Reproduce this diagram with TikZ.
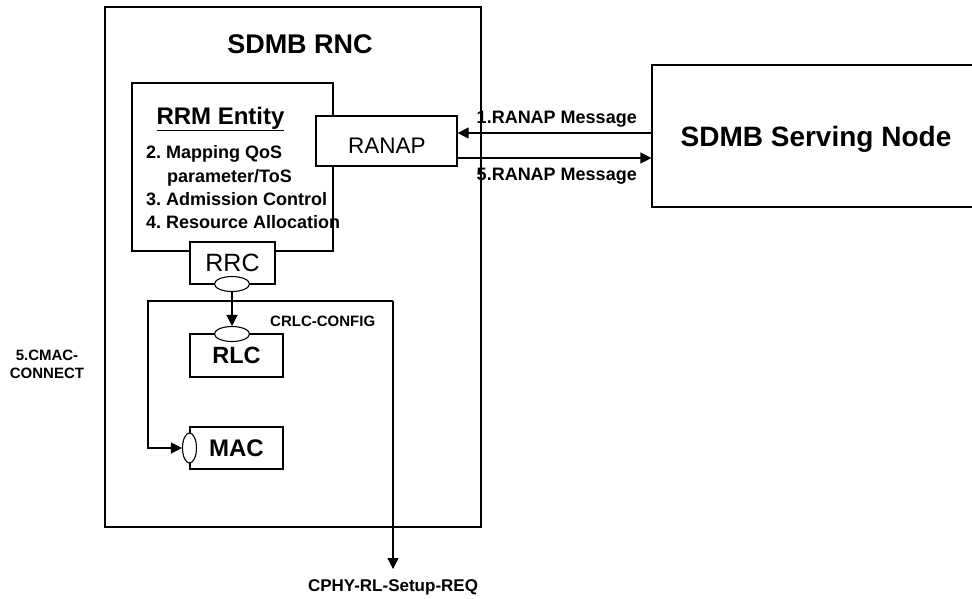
\documentclass[tikz,border=0pt]{standalone}
\usepackage{fontspec}
\setmainfont{Liberation Sans}
\usetikzlibrary{arrows.meta,shapes.geometric}

\tikzset{
  box/.style={draw, line width=1.2pt, fill=white, inner sep=0pt},
  port/.style={ellipse, draw, line width=1.1pt, fill=white, inner sep=0pt},
  sig/.style={line width=1.2pt, -{Triangle[length=11pt,width=11pt]}},
  lbl/.style={inner sep=0pt, font=\fontsize{18}{22}\selectfont\bfseries},
  small/.style={inner sep=0pt, font=\fontsize{15}{18}\selectfont\bfseries},
}

\begin{document}
\frenchspacing
\begin{tikzpicture}[x=1pt, y=-1pt]
\useasboundingbox (0,0) rectangle (972,598);

% RNC enclosure and its title
\node[box, fill=none, minimum width=376pt, minimum height=520pt] (rnc) at (293,267) {};
\node[inner sep=0pt, font=\fontsize{27}{32}\selectfont\bfseries] (rnctitle) at (300,44) {SDMB RNC};

% RRM entity with its task list
\node[box, minimum width=201pt, minimum height=168pt] (rrm) at (232.5,167) {};
\node[inner sep=0pt, font=\fontsize{24}{28}\selectfont\bfseries] (rrmtitle) at (220.5,119) {\underline{RRM Entity}};
\node[lbl, anchor=base west] (t2) at (146,158) {2. Mapping QoS};
\node[lbl, anchor=base west] (t2b) at (167,182) {parameter/ToS};
\node[lbl, anchor=base west] (t3) at (146,205) {3. Admission Control};
\node[lbl, anchor=base west] (t4) at (146,228) {4. Resource Allocation};

% RANAP and RRC protocol boxes on the RRM border
\node[box, minimum width=141pt, minimum height=50pt] (ranap) at (386.5,141) {};
\node[inner sep=0pt, font=\fontsize{22.5}{26}\selectfont] (ranaptext) at (387,146) {RANAP};
\node[box, minimum width=85pt, minimum height=42pt, font=\fontsize{25}{30}\selectfont] (rrc) at (232.5,263) {RRC};
\node[port, minimum width=35pt, minimum height=15pt] (rrcport) at (232,284) {};

% Layer 2 entities
\node[box, minimum width=93pt, minimum height=43pt, font=\fontsize{23.5}{28}\selectfont\bfseries] (rlc) at (236.5,355.5) {RLC};
\node[port, minimum width=35pt, minimum height=15pt] (rlcport) at (232,334) {};
\node[box, minimum width=93pt, minimum height=42pt, font=\fontsize{24}{28}\selectfont\bfseries] (mac) at (236.5,448) {MAC};
\node[port, minimum width=14pt, minimum height=30pt] (macport) at (189.5,448) {};

% Serving node (runs off the right edge)
\node[draw, line width=1.2pt, minimum width=338pt, minimum height=142pt] (sn) at (821,136) {};
\node[inner sep=0pt, font=\fontsize{28}{32}\selectfont\bfseries] (sntitle) at (816,139) {SDMB Serving Node};

% RANAP messages
\draw[sig] ([yshift=3pt]sn.west) -- ([yshift=8pt]ranap.east);
\draw[sig] ([yshift=-17pt]ranap.east) -- ([yshift=-22pt]sn.west);
\node[lbl, anchor=east] (m1) at (637,119) {1.RANAP Message};
\node[lbl, anchor=east] (m5) at (637,176) {5.RANAP Message};

% RRC control primitives
\coordinate (tl) at (148,301);
\coordinate (tr) at (393,301);
\coordinate (phyend) at (393,569);
\draw[sig] (rrcport.south) -- (rlcport.north);
\draw[sig] (tr) -- (tl) |- (macport.west);
\draw[sig] (tr) -- (phyend);

\node[small, anchor=west] (crlc) at (270,321) {CRLC-CONFIG};
\node[small, align=center] (cmac) at (47,364) {5.CMAC-\\CONNECT};
\node[inner sep=0pt, font=\fontsize{17}{20}\selectfont\bfseries] (cphy) at (393,587) {CPHY-RL-Setup-REQ};
\end{tikzpicture}
\end{document}
